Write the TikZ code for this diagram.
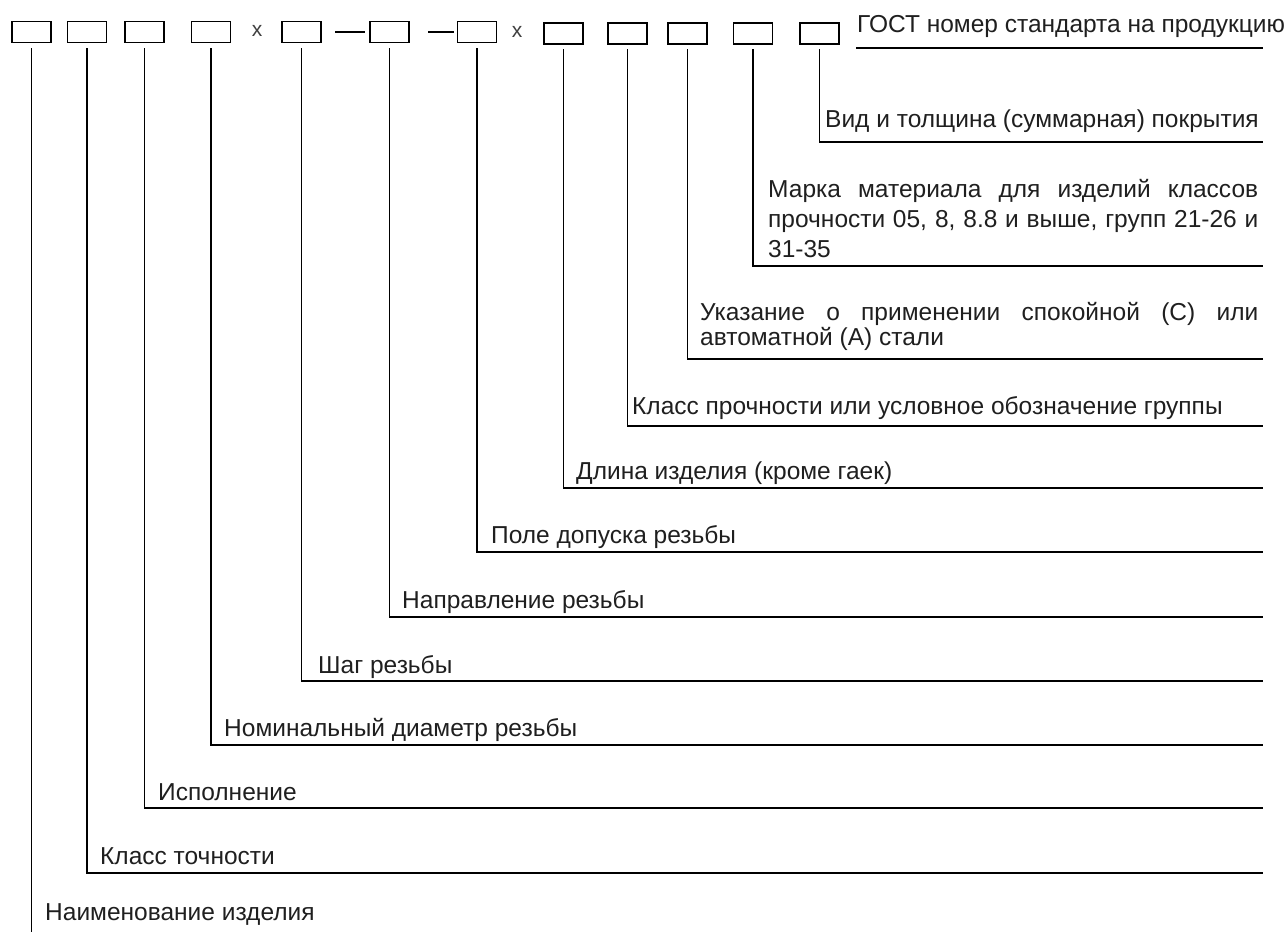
\documentclass[tikz,border=0pt]{standalone}
\usepackage{fontspec}
\setmainfont{Liberation Sans}
\begin{document}
\begin{tikzpicture}[x=1pt,y=-1pt,
  cell/.style={draw, line width=1.6pt, minimum width=39pt, minimum height=21pt, inner sep=0pt},
  lbl/.style={anchor=base west, inner sep=0pt, font=\fontsize{24.5}{29}\selectfont, text=black!88},
  sign/.style={inner sep=0pt, font=\fontsize{21}{24}\selectfont, text=black!75},
  lead/.style={line width=1.6pt, line cap=rect}]
\useasboundingbox (0,0) rectangle (1285,932);
% boxes
\node[cell] (b1) at (31.5,32) {};
\node[cell] (b2) at (87,32) {};
\node[cell] (b3) at (144.5,32) {};
\node[cell] (b4) at (211,32) {};
\node[sign] (x1) at (257,31) {x};
\node[cell] (b5) at (301.5,32) {};
\node[cell] (b6) at (389.5,32) {};
\node[cell] (b7) at (477,32) {};
\node[sign] (x2) at (517,32) {x};
\node[cell] (b8) at (563.5,33.5) {};
\node[cell] (b9) at (627.5,33.5) {};
\node[cell] (b10) at (687.5,33.5) {};
\node[cell] (b11) at (753,33.5) {};
\node[cell] (b12) at (819.5,33.5) {};
% dashes
\draw[lead] ([xshift=14pt]b5.east) -- ([xshift=-5pt]b6.west);
\draw[lead] ([xshift=19pt]b6.east) -- ([xshift=-4pt]b7.west);
% line ends
\coordinate (g0) at (857,48);
\coordinate (e0) at (1262,48);
\coordinate (e12) at (1262,142);
\coordinate (e11) at (1262,266);
\coordinate (e10) at (1262,359);
\coordinate (e9) at (1262,426);
\coordinate (e8) at (1262,488);
\coordinate (e7) at (1262,552);
\coordinate (e6) at (1262,617);
\coordinate (e5) at (1262,681);
\coordinate (e4) at (1262,745);
\coordinate (e3) at (1262,808);
\coordinate (e2) at (1262,873);
\coordinate (e1) at (31.5,932);
% connectors
\draw[lead] (g0) -- (e0);
\draw[lead] ([yshift=-5pt]b12.south) |- (e12);
\draw[lead] ([yshift=-5pt]b11.south) |- (e11);
\draw[lead] ([yshift=-5pt]b10.south) |- (e10);
\draw[lead] ([yshift=-5pt]b9.south) |- (e9);
\draw[lead] ([yshift=-5pt]b8.south) |- (e8);
\draw[lead] ([yshift=-5pt]b7.south) |- (e7);
\draw[lead] ([yshift=-5pt]b6.south) |- (e6);
\draw[lead] ([yshift=-5pt]b5.south) |- (e5);
\draw[lead] ([yshift=-5pt]b4.south) |- (e4);
\draw[lead] ([yshift=-5pt]b3.south) |- (e3);
\draw[lead] ([yshift=-5pt]b2.south) |- (e2);
\draw[line width=1.6pt] ([yshift=-5pt]b1.south) -- (e1);
% labels
\node[lbl] (t0) at (857,32) {ГОСТ номер стандарта на продукцию};
\node[lbl] (t12) at (825,127) {Вид и толщина (суммарная) покрытия};
\node[lbl] (t11) at (768,257) {\parbox[b]{490pt}{\fontsize{24.5}{30}\selectfont Марка материала для изделий классов\linebreak прочности 05, 8, 8.8 и выше, групп 21-26 и\linebreak 31-35}};
\node[lbl] (t10) at (700,345) {\parbox[b]{558pt}{\fontsize{24.5}{25}\selectfont Указание о применении спокойной (С) или\linebreak автоматной (А) стали}};
\node[lbl] (t9) at (632,414) {Класс прочности или условное обозначение группы};
\node[lbl] (t8) at (576,479) {Длина изделия (кроме гаек)};
\node[lbl] (t7) at (491,543) {Поле допуска резьбы};
\node[lbl] (t6) at (402,608) {Направление резьбы};
\node[lbl] (t5) at (318,673) {Шаг резьбы};
\node[lbl] (t4) at (224,736) {Номинальный диаметр резьбы};
\node[lbl] (t3) at (158,800) {Исполнение};
\node[lbl] (t2) at (100,864) {Класс точности};
\node[lbl] (t1) at (45,920) {Наименование изделия};
\end{tikzpicture}
\end{document}
